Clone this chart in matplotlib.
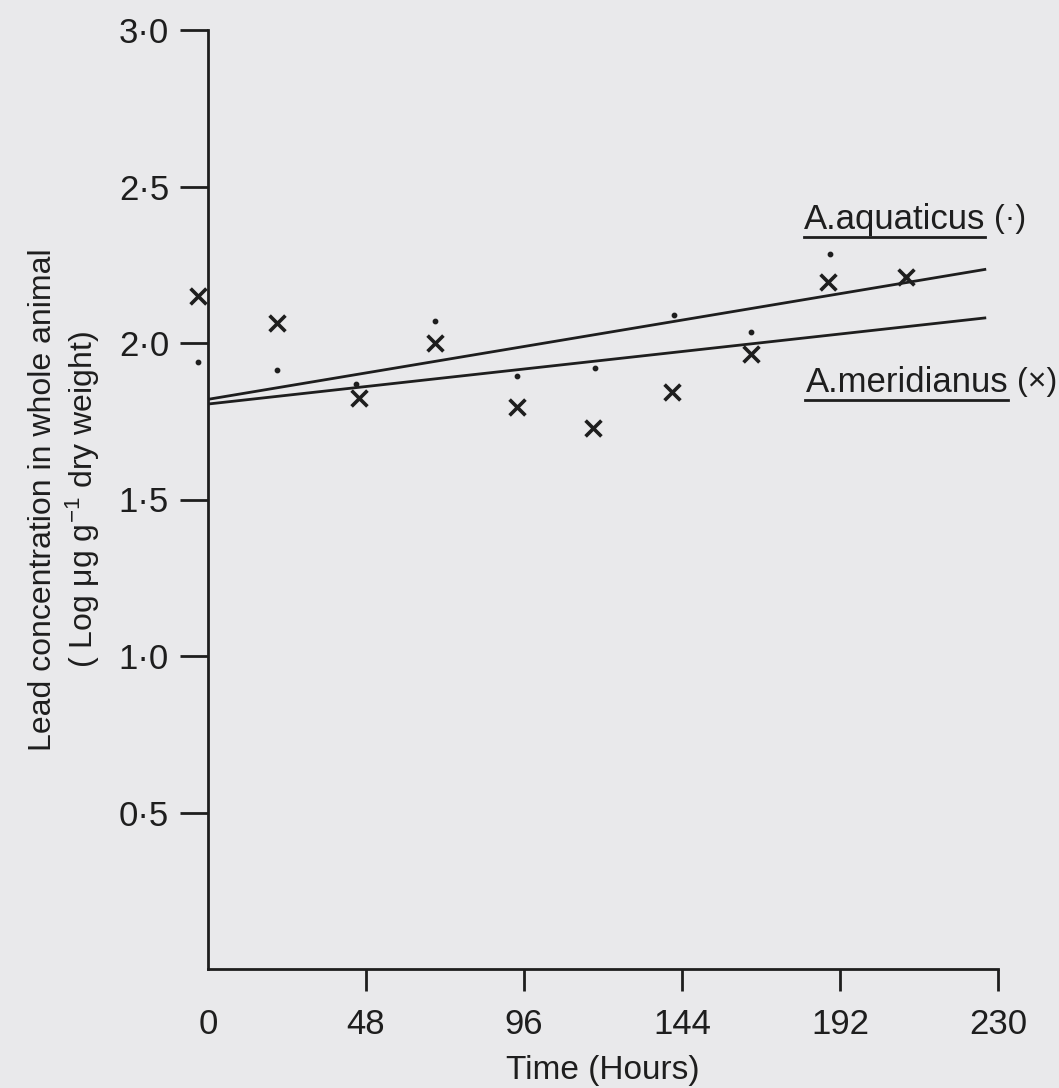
import matplotlib
matplotlib.use("Agg")
import matplotlib.pyplot as plt
from matplotlib.lines import Line2D

# ---------- data ----------
hours_x = [-3, 21, 46, 69, 94, 117, 141, 165, 188.5, 212]
meridianus = [2.15, 2.065, 1.825, 2.00, 1.795, 1.73, 1.845, 1.965, 2.195, 2.21]

hours_dot = [-3, 21, 45, 69, 94, 117.5, 141.5, 165, 189, 212]
aquaticus = [1.94, 1.915, 1.87, 2.07, 1.895, 1.92, 2.09, 2.035, 2.285, 2.21]

fit_x = [0, 236]
aquaticus_fit = [1.82, 2.235]
meridianus_fit = [1.805, 2.08]

xtick_pos = [0, 48, 96, 144, 192, 240]
xtick_lab = ["0", "48", "96", "144", "192", "230"]
ytick_pos = [0.5, 1.0, 1.5, 2.0, 2.5, 3.0]
ytick_lab = ["0·5", "1·0", "1·5", "2·0", "2·5", "3·0"]

FONT = ["Liberation Sans", "DejaVu Sans"]
plt.rcParams["font.family"] = FONT
plt.rcParams["mathtext.fontset"] = "custom"
plt.rcParams["mathtext.rm"] = "Liberation Sans"
plt.rcParams["mathtext.it"] = "Liberation Sans"
BG = "#e9e9eb"
INK = "#1e1e1e"

fig = plt.figure(figsize=(10.59, 10.88), dpi=100, facecolor=BG)
ax = fig.add_axes([208 / 1059, 119 / 1088, 790 / 1059, 939 / 1088])
ax.set_facecolor(BG)

ax.plot(fit_x, aquaticus_fit, color=INK, lw=2.0)
ax.plot(fit_x, meridianus_fit, color=INK, lw=2.0)
ax.scatter(hours_dot, aquaticus, s=10, color=INK, zorder=3, clip_on=False)
ax.scatter(hours_x, meridianus, marker="x", s=130, linewidths=2.6,
           color=INK, zorder=4, clip_on=False)

ax.set_xlim(0, 240)
ax.set_ylim(0, 3.0)
for s in ["top", "right"]:
    ax.spines[s].set_visible(False)
for s in ["left", "bottom"]:
    ax.spines[s].set_linewidth(2.0)
    ax.spines[s].set_color(INK)

ax.set_xticks(xtick_pos)
ax.set_xticklabels(xtick_lab)
ax.set_yticks(ytick_pos)
ax.set_yticklabels(ytick_lab)
ax.tick_params(axis="x", direction="out", length=16, width=2, pad=12,
               labelsize=25, colors=INK)
ax.tick_params(axis="y", direction="out", length=20, width=2, pad=8,
               labelsize=25, colors=INK)
# no tick mark at the origin, only its label
ax.xaxis.get_major_ticks()[0].tick1line.set_visible(False)

ax.set_xlabel("Time (Hours)", fontsize=24, color=INK, labelpad=10)
ax.set_ylabel("Lead concentration in whole animal\n"
              "( Log $\\mathregular{\\mu}$g g$^{-1}$ dry weight)",
              fontsize=23, color=INK, labelpad=12, linespacing=1.2)

# species labels, with the name underlined
labels = [("A.aquaticus", "(·)", 181, 2.395), ("A.meridianus", "(×)", 181.5, 1.875)]
name_texts = []
for name, sym, x, y in labels:
    t = ax.text(x, y, name, fontsize=25, color=INK, ha="left", va="center")
    name_texts.append((t, sym))

fig.canvas.draw()
r = fig.canvas.get_renderer()
for t, sym in name_texts:
    bb = t.get_window_extent(renderer=r)
    yline = bb.y0 - 1
    fig.add_artist(Line2D([bb.x0, bb.x1], [yline, yline], transform=None,
                          color=INK, lw=2.0))
    fig.text((bb.x1 + 9) / fig.bbox.width, (bb.y0 + bb.y1) / 2 / fig.bbox.height,
             sym, fontsize=23, color=INK, ha="left", va="center")

fig.savefig("out.png", dpi=100, facecolor=BG)
